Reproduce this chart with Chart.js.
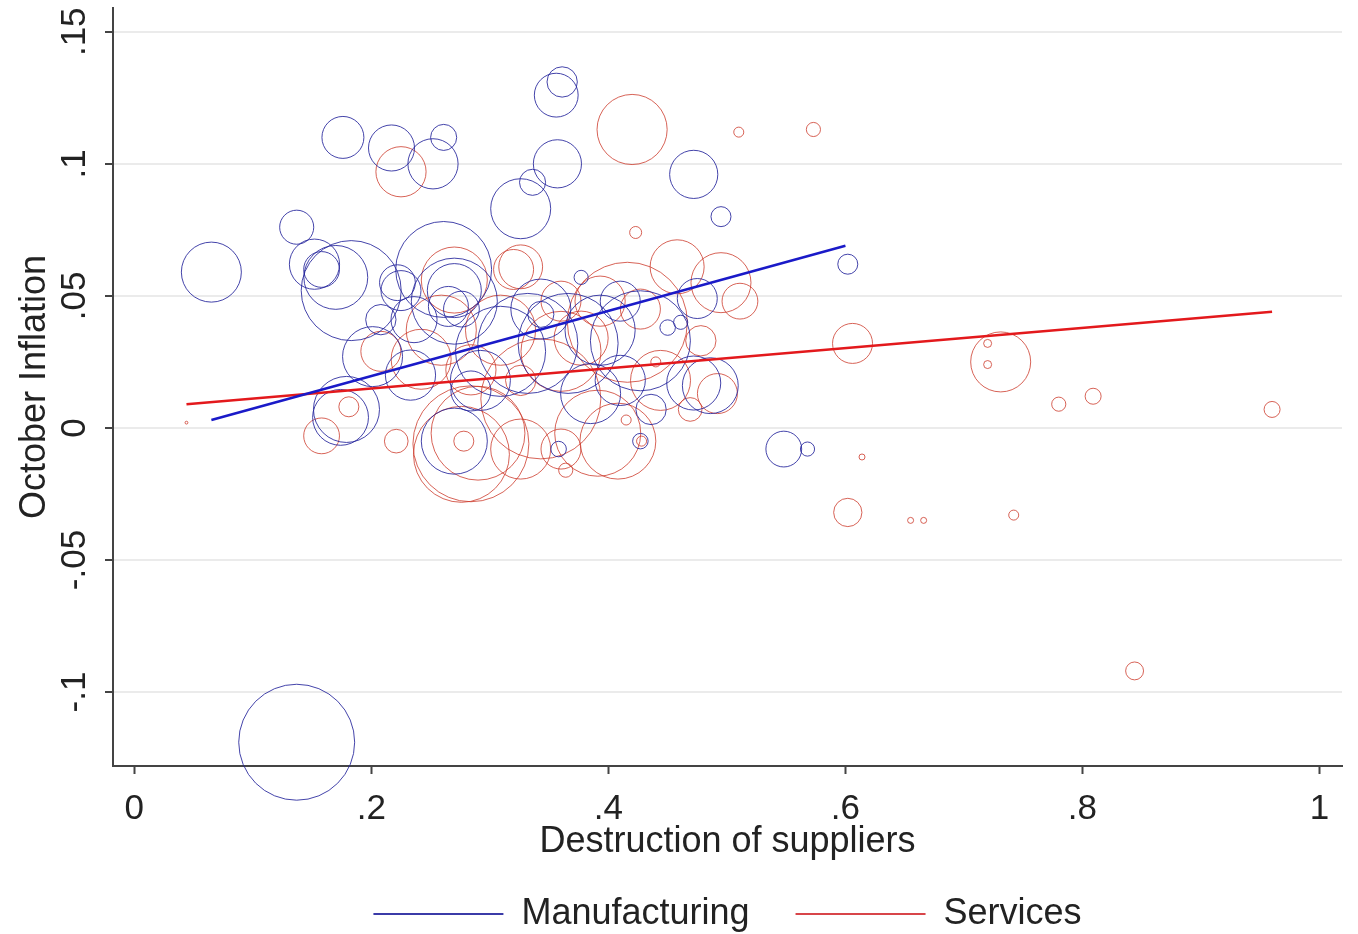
<!DOCTYPE html>
<html>
<head>
<meta charset="utf-8">
<title>October Inflation vs Destruction of suppliers</title>
<script src="https://cdn.jsdelivr.net/npm/chart.js@4.4.0/dist/chart.umd.min.js"></script>
<style>
  html, body { margin: 0; padding: 0; background: #ffffff; }
</style>
</head>
<body>
<canvas id="chart" width="1358" height="934"></canvas>
<script>
// Manufacturing sectors: supplier destruction, October inflation, weight
const manufX = [0.065, 0.137, 0.152, 0.170, 0.183, 0.176, 0.217, 0.252, 0.261, 0.261,
                0.225, 0.201, 0.270, 0.265, 0.179, 0.174, 0.270, 0.326, 0.336, 0.356,
                0.361, 0.357, 0.472, 0.495, 0.602, 0.548, 0.568, 0.358, 0.137, 0.332,
                0.343, 0.366, 0.377, 0.475, 0.486, 0.236, 0.276, 0.270, 0.222, 0.158,
                0.233, 0.427, 0.450, 0.472, 0.427, 0.385, 0.343, 0.461, 0.292, 0.410,
                0.309, 0.393, 0.208, 0.284, 0.410, 0.436];
const manufY = [0.059, 0.076, 0.062, 0.057, 0.052, 0.110, 0.106, 0.100, 0.110, 0.060,
                0.052, 0.027, 0.048, 0.046, 0.007, 0.004, -0.005, 0.083, 0.093, 0.126,
                0.131, 0.100, 0.096, 0.080, 0.062, -0.008, -0.008, -0.008, -0.119, 0.032,
                0.043, 0.032, 0.057, 0.049, 0.016, 0.041, 0.045, 0.052, 0.055, 0.060,
                0.020, 0.033, 0.038, 0.017, -0.005, 0.013, 0.045, 0.040, 0.018, 0.048,
                0.029, 0.037, 0.041, 0.014, 0.018, 0.007];
const manufW = [9.0, 2.9, 6.3, 10.2, 25, 4.4, 5.3, 6.3, 1.7, 23,
                4.0, 9.0, 18.5, 4.0, 10.9, 7.8, 10.9, 9.0, 1.7, 4.8,
                2.3, 5.8, 5.8, 1.0, 1.0, 3.2, 0.5, 0.6, 33.6, 25,
                1.7, 25, 0.5, 4.0, 7.8, 5.3, 3.2, 7.3, 3.2, 3.2,
                6.3, 25, 0.6, 7.3, 0.6, 9.0, 9.0, 0.5, 9.0, 4.0,
                20.3, 12.3, 2.3, 4.0, 6.3, 2.3];

// Services sectors
const servX = [0.225, 0.420, 0.510, 0.573, 0.423, 0.606, 0.731, 0.720, 0.720, 0.780,
               0.809, 0.960, 0.602, 0.655, 0.666, 0.742, 0.844, 0.614, 0.044, 0.181,
               0.158, 0.221, 0.278, 0.284, 0.290, 0.276, 0.270, 0.320, 0.326, 0.458,
               0.495, 0.416, 0.377, 0.492, 0.408, 0.391, 0.440, 0.343, 0.360, 0.309,
               0.259, 0.427, 0.478, 0.360, 0.326, 0.393, 0.364, 0.428, 0.415, 0.469,
               0.242, 0.208, 0.284, 0.360, 0.444, 0.326, 0.511];
const servY = [0.097, 0.113, 0.112, 0.113, 0.074, 0.032, 0.025, 0.032, 0.024, 0.009,
               0.012, 0.007, -0.032, -0.035, -0.035, -0.033, -0.092, -0.011, 0.002, 0.008,
               -0.003, -0.005, -0.005, -0.006, -0.002, -0.010, 0.056, 0.060, 0.061, 0.061,
               0.055, 0.040, 0.034, 0.013, -0.005, -0.002, 0.025, 0.011, 0.029, 0.037,
               0.037, 0.045, 0.033, -0.008, 0.018, 0.048, -0.016, -0.005, 0.003, 0.007,
               0.026, 0.029, 0.022, 0.048, 0.018, -0.008, 0.048];
const servW = [6.3, 12.3, 0.25, 0.5, 0.36, 4.0, 9.0, 0.16, 0.16, 0.5,
               0.64, 0.64, 2.0, 0.09, 0.09, 0.25, 0.8, 0.09, 0.02, 1.0,
               3.2, 1.4, 1.0, 33.6, 22, 23, 10.9, 4.0, 4.8, 7.3,
               9.0, 36, 7.3, 4.0, 14.4, 18.5, 0.25, 36, 16, 12.3,
               12.3, 4.0, 2.3, 4.0, 2.3, 6.3, 0.5, 0.25, 0.25, 1.4,
               9.0, 4.0, 6.3, 4.0, 9.0, 9.0, 3.2];

// fitted lines (end points)
const manufFitX = [0.065, 0.600];
const manufFitY = [0.003, 0.069];
const servFitX = [0.044, 0.960];
const servFitY = [0.009, 0.044];

// axes
const xTicks = [0, 0.2, 0.4, 0.6, 0.8, 1];
const xTickLabels = ['0', '.2', '.4', '.6', '.8', '1'];
const yTicks = [-0.1, -0.05, 0, 0.05, 0.1, 0.15];
const yTickLabels = ['-.1', '-.05', '0', '.05', '.1', '.15'];

const FONT = '"Liberation Sans", Arial, Helvetica, sans-serif';
const TEXT = '#222222';
const AXIS = '#444444';

function bubbleRadius(w) {
  return 10 * Math.sqrt(w);
}

function toBubbles(xs, ys, ws) {
  return xs.map((x, i) => ({x: x, y: ys[i], r: bubbleRadius(ws[i])}));
}

function toLine(xs, ys) {
  return xs.map((x, i) => ({x: x, y: ys[i]}));
}

// scales keep a fixed size and don't push the plot area for overhanging labels
function fixSize(width, height) {
  return function(s) {
    if (width !== null) s.width = width;
    if (height !== null) s.height = height;
    s.paddingTop = 0;
    s.paddingBottom = 0;
    s.paddingLeft = 0;
    s.paddingRight = 0;
  };
}

const ctx = document.getElementById('chart').getContext('2d');
const chart = new Chart(ctx, {
  type: 'bubble',
  data: {
    datasets: [
      {
        type: 'line',
        label: 'Manufacturing',
        data: toLine(manufFitX, manufFitY),
        borderColor: '#1a1ac8',
        backgroundColor: '#3b3ba8',
        borderWidth: 2.5,
        pointRadius: 0,
        order: 0
      },
      {
        type: 'line',
        label: 'Services',
        data: toLine(servFitX, servFitY),
        borderColor: '#e3191c',
        backgroundColor: '#d8454a',
        borderWidth: 2.5,
        pointRadius: 0,
        order: 0
      },
      {
        label: 'Manufacturing sectors',
        data: toBubbles(manufX, manufY, manufW),
        borderColor: 'rgba(35, 35, 155, 0.85)',
        backgroundColor: 'rgba(0, 0, 0, 0)',
        borderWidth: 1,
        clip: false,
        order: 1
      },
      {
        label: 'Services sectors',
        data: toBubbles(servX, servY, servW),
        borderColor: 'rgba(205, 60, 45, 0.8)',
        backgroundColor: 'rgba(0, 0, 0, 0)',
        borderWidth: 1,
        clip: false,
        order: 1
      }
    ]
  },
  options: {
    responsive: false,
    animation: false,
    layout: {
      autoPadding: false,
      padding: {top: 8, right: 16, left: 0, bottom: 0}
    },
    plugins: {
      tooltip: {enabled: false},
      legend: {
        position: 'bottom',
        fullSize: false,
        maxHeight: 84,
        labels: {
          boxWidth: 130,
          boxHeight: 2,
          padding: 46,
          color: TEXT,
          font: {family: FONT, size: 36},
          generateLabels: function(chart) {
            return Chart.defaults.plugins.legend.labels.generateLabels(chart)
              .filter(item => item.datasetIndex < 2)
              .map(item => Object.assign(item, {lineWidth: 0}));
          }
        }
      }
    },
    scales: {
      x: {
        type: 'linear',
        min: -0.018,
        max: 1.019,
        afterBuildTicks: s => { s.ticks = xTicks.map(v => ({value: v})); },
        afterFit: fixSize(null, 84),
        grid: {drawOnChartArea: false, tickLength: 8, tickColor: AXIS, tickWidth: 2},
        border: {color: AXIS, width: 2},
        ticks: {
          padding: 14,
          color: TEXT,
          font: {family: FONT, size: 35},
          maxRotation: 0,
          callback: (v, i) => xTickLabels[i]
        },
        title: {
          display: true,
          text: 'Destruction of suppliers',
          color: TEXT,
          font: {family: FONT, size: 36},
          padding: {top: 0, bottom: -14}
        }
      },
      y: {
        type: 'linear',
        min: -0.128,
        max: 0.159,
        afterBuildTicks: s => { s.ticks = yTicks.map(v => ({value: v})); },
        afterFit: fixSize(113, null),
        grid: {color: '#ebebeb', lineWidth: 2, tickLength: 8, tickColor: AXIS, tickWidth: 2},
        border: {color: AXIS, width: 2},
        ticks: {
          padding: 0,
          minRotation: 90,
          maxRotation: 90,
          crossAlign: 'center',
          color: TEXT,
          font: {family: FONT, size: 35},
          callback: (v, i) => yTickLabels[i]
        },
        title: {
          display: true,
          text: 'October Inflation',
          color: TEXT,
          font: {family: FONT, size: 36},
          padding: {top: 13, bottom: 0}
        }
      }
    }
  }
});
</script>
</body>
</html>
